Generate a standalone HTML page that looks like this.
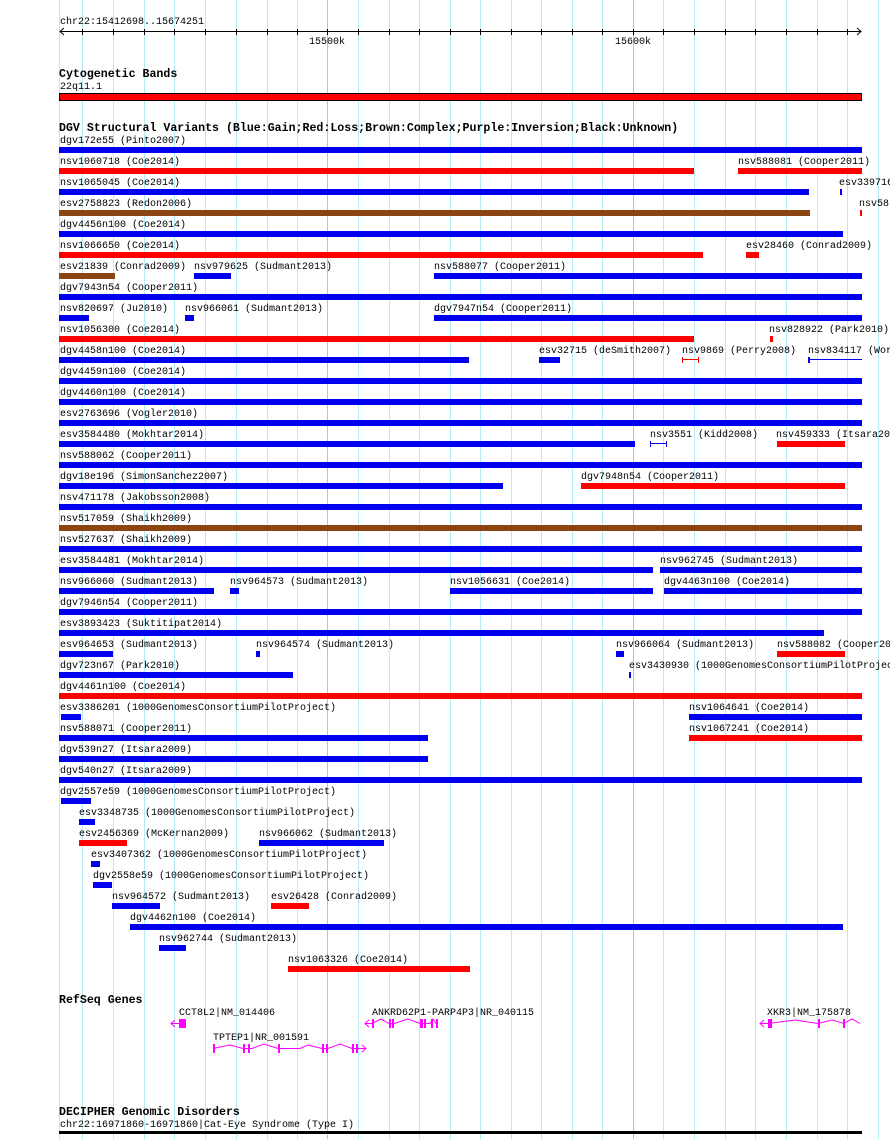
<!DOCTYPE html>
<html><head><meta charset="utf-8"><style>
body{margin:0;width:890px;height:1139px;background:#fff;position:relative;overflow:hidden;font-family:"Liberation Mono","DejaVu Sans Mono",monospace;}
.g{position:absolute;top:0;height:1139px;width:1px;background:#b4ecf2;}
.gm{background:#9ccde6;}
.t{position:absolute;font-size:10px;line-height:11px;white-space:pre;color:#000;margin-top:1px;}
.h{position:absolute;font-size:11.6px;line-height:12px;font-weight:bold;white-space:pre;color:#000;margin-top:1px;}
.b{position:absolute;height:6px;}
.B{background:#0000ee;}.R{background:#ff0000;}.N{background:#8b4513;}
</style></head><body>
<div class="g" style="left:59px"></div>
<div class="g" style="left:82px"></div><div class="g" style="left:113px"></div><div class="g" style="left:144px"></div><div class="g" style="left:174px"></div><div class="g" style="left:205px"></div><div class="g" style="left:236px"></div><div class="g" style="left:267px"></div><div class="g" style="left:297px"></div><div class="g gm" style="left:327px"></div><div class="g" style="left:358px"></div><div class="g" style="left:389px"></div><div class="g" style="left:419px"></div><div class="g" style="left:450px"></div><div class="g" style="left:480px"></div><div class="g" style="left:511px"></div><div class="g" style="left:541px"></div><div class="g" style="left:572px"></div><div class="g" style="left:602px"></div><div class="g gm" style="left:633px"></div><div class="g" style="left:663px"></div><div class="g" style="left:694px"></div><div class="g" style="left:725px"></div><div class="g" style="left:755px"></div><div class="g" style="left:786px"></div><div class="g" style="left:817px"></div><div class="g" style="left:847px"></div><div class="g" style="left:878px"></div>

<svg style="position:absolute;left:0;top:0" width="890" height="60">
<line x1="60" y1="31.5" x2="861" y2="31.5" stroke="#000"/>
<polyline points="64,28 60,31.5 64,35" fill="none" stroke="#000"/>
<polyline points="857,28 861,31.5 857,35" fill="none" stroke="#000"/>
<g stroke="#000">
<line x1="82.5" y1="29" x2="82.5" y2="35"/><line x1="113.5" y1="29" x2="113.5" y2="35"/><line x1="144.5" y1="29" x2="144.5" y2="35"/><line x1="174.5" y1="29" x2="174.5" y2="35"/><line x1="205.5" y1="29" x2="205.5" y2="35"/><line x1="236.5" y1="29" x2="236.5" y2="35"/><line x1="267.5" y1="29" x2="267.5" y2="35"/><line x1="297.5" y1="29" x2="297.5" y2="35"/><line x1="327.5" y1="29" x2="327.5" y2="35"/><line x1="358.5" y1="29" x2="358.5" y2="35"/><line x1="389.5" y1="29" x2="389.5" y2="35"/><line x1="419.5" y1="29" x2="419.5" y2="35"/><line x1="450.5" y1="29" x2="450.5" y2="35"/><line x1="480.5" y1="29" x2="480.5" y2="35"/><line x1="511.5" y1="29" x2="511.5" y2="35"/><line x1="541.5" y1="29" x2="541.5" y2="35"/><line x1="572.5" y1="29" x2="572.5" y2="35"/><line x1="602.5" y1="29" x2="602.5" y2="35"/><line x1="633.5" y1="29" x2="633.5" y2="35"/><line x1="663.5" y1="29" x2="663.5" y2="35"/><line x1="694.5" y1="29" x2="694.5" y2="35"/><line x1="725.5" y1="29" x2="725.5" y2="35"/><line x1="755.5" y1="29" x2="755.5" y2="35"/><line x1="786.5" y1="29" x2="786.5" y2="35"/><line x1="817.5" y1="29" x2="817.5" y2="35"/><line x1="847.5" y1="29" x2="847.5" y2="35"/>
</g></svg>
<div class="t" style="left:60px;top:16px">chr22:15412698..15674251</div>
<div class="t" style="left:309px;top:36px">15500k</div>
<div class="t" style="left:615px;top:36px">15600k</div>

<div class="h" style="left:59px;top:68px">Cytogenetic Bands</div>
<div class="t" style="left:60px;top:81px">22q11.1</div>
<div style="position:absolute;left:59px;top:93px;width:801px;height:6px;background:#f00;border:1px solid #000"></div>

<div class="h" style="left:59px;top:122px">DGV Structural Variants (Blue:Gain;Red:Loss;Brown:Complex;Purple:Inversion;Black:Unknown)</div>

<div class="t" style="left:60px;top:135px">dgv172e55 (Pinto2007)</div><div class="b B" style="left:59px;top:147px;width:803px"></div>
<div class="t" style="left:60px;top:156px">nsv1060718 (Coe2014)</div><div class="b R" style="left:59px;top:168px;width:635px"></div>
<div class="t" style="left:738px;top:156px">nsv588081 (Cooper2011)</div><div class="b R" style="left:738px;top:168px;width:124px"></div>
<div class="t" style="left:60px;top:177px">nsv1065045 (Coe2014)</div><div class="b B" style="left:59px;top:189px;width:750px"></div>
<div class="t" style="left:839px;top:177px">esv339716</div><div class="b B" style="left:840px;top:189px;width:2px"></div>
<div class="t" style="left:60px;top:198px">esv2758823 (Redon2006)</div><div class="b N" style="left:59px;top:210px;width:751px"></div>
<div class="t" style="left:859px;top:198px">nsv58</div><div class="b R" style="left:860px;top:210px;width:2px"></div>
<div class="t" style="left:60px;top:219px">dgv4456n100 (Coe2014)</div><div class="b B" style="left:59px;top:231px;width:784px"></div>
<div class="t" style="left:60px;top:240px">nsv1066650 (Coe2014)</div><div class="b R" style="left:59px;top:252px;width:644px"></div>
<div class="t" style="left:746px;top:240px">esv28460 (Conrad2009)</div><div class="b R" style="left:746px;top:252px;width:13px"></div>
<div class="t" style="left:60px;top:261px">esv21839 (Conrad2009)</div><div class="b N" style="left:59px;top:273px;width:56px"></div>
<div class="t" style="left:194px;top:261px">nsv979625 (Sudmant2013)</div><div class="b B" style="left:194px;top:273px;width:37px"></div>
<div class="t" style="left:434px;top:261px">nsv588077 (Cooper2011)</div><div class="b B" style="left:434px;top:273px;width:428px"></div>
<div class="t" style="left:60px;top:282px">dgv7943n54 (Cooper2011)</div><div class="b B" style="left:59px;top:294px;width:803px"></div>
<div class="t" style="left:60px;top:303px">nsv820697 (Ju2010)</div><div class="b B" style="left:59px;top:315px;width:30px"></div>
<div class="t" style="left:185px;top:303px">nsv966061 (Sudmant2013)</div><div class="b B" style="left:185px;top:315px;width:9px"></div>
<div class="t" style="left:434px;top:303px">dgv7947n54 (Cooper2011)</div><div class="b B" style="left:434px;top:315px;width:428px"></div>
<div class="t" style="left:60px;top:324px">nsv1056300 (Coe2014)</div><div class="b R" style="left:59px;top:336px;width:635px"></div>
<div class="t" style="left:769px;top:324px">nsv828922 (Park2010)</div><div class="b R" style="left:770px;top:336px;width:3px"></div>
<div class="t" style="left:60px;top:345px">dgv4458n100 (Coe2014)</div><div class="b B" style="left:59px;top:357px;width:410px"></div>
<div class="t" style="left:539px;top:345px">esv32715 (deSmith2007)</div><div class="b B" style="left:539px;top:357px;width:21px"></div>
<div class="t" style="left:682px;top:345px">nsv9869 (Perry2008)</div>
<div style="position:absolute;left:682px;top:359px;width:17px;height:1px;background:#f00"></div><div style="position:absolute;left:682px;top:357px;width:1px;height:6px;background:#f00"></div><div style="position:absolute;left:698px;top:357px;width:1px;height:6px;background:#f00"></div>
<div class="t" style="left:808px;top:345px">nsv834117 (Wor</div>
<div style="position:absolute;left:808px;top:359px;width:54px;height:1px;background:#00e"></div><div style="position:absolute;left:808px;top:357px;width:2px;height:6px;background:#00e"></div>
<div class="t" style="left:60px;top:366px">dgv4459n100 (Coe2014)</div><div class="b B" style="left:59px;top:378px;width:803px"></div>
<div class="t" style="left:60px;top:387px">dgv4460n100 (Coe2014)</div><div class="b B" style="left:59px;top:399px;width:803px"></div>
<div class="t" style="left:60px;top:408px">esv2763696 (Vogler2010)</div><div class="b B" style="left:59px;top:420px;width:803px"></div>
<div class="t" style="left:60px;top:429px">esv3584480 (Mokhtar2014)</div><div class="b B" style="left:59px;top:441px;width:576px"></div>
<div class="t" style="left:650px;top:429px">nsv3551 (Kidd2008)</div>
<div style="position:absolute;left:650px;top:443px;width:17px;height:1px;background:#00e"></div><div style="position:absolute;left:650px;top:441px;width:1px;height:6px;background:#00e"></div><div style="position:absolute;left:666px;top:441px;width:1px;height:6px;background:#00e"></div>
<div class="t" style="left:776px;top:429px">nsv459333 (Itsara20</div><div class="b R" style="left:777px;top:441px;width:68px"></div>
<div class="t" style="left:60px;top:450px">nsv588062 (Cooper2011)</div><div class="b B" style="left:59px;top:462px;width:803px"></div>
<div class="t" style="left:60px;top:471px">dgv18e196 (SimonSanchez2007)</div><div class="b B" style="left:59px;top:483px;width:444px"></div>
<div class="t" style="left:581px;top:471px">dgv7948n54 (Cooper2011)</div><div class="b R" style="left:581px;top:483px;width:264px"></div>
<div class="t" style="left:60px;top:492px">nsv471178 (Jakobsson2008)</div><div class="b B" style="left:59px;top:504px;width:803px"></div>
<div class="t" style="left:60px;top:513px">nsv517059 (Shaikh2009)</div><div class="b N" style="left:59px;top:525px;width:803px"></div>
<div class="t" style="left:60px;top:534px">nsv527637 (Shaikh2009)</div><div class="b B" style="left:59px;top:546px;width:803px"></div>
<div class="t" style="left:60px;top:555px">esv3584481 (Mokhtar2014)</div><div class="b B" style="left:59px;top:567px;width:594px"></div>
<div class="t" style="left:660px;top:555px">nsv962745 (Sudmant2013)</div><div class="b B" style="left:660px;top:567px;width:202px"></div>
<div class="t" style="left:60px;top:576px">nsv966060 (Sudmant2013)</div><div class="b B" style="left:59px;top:588px;width:155px"></div>
<div class="t" style="left:230px;top:576px">nsv964573 (Sudmant2013)</div><div class="b B" style="left:230px;top:588px;width:9px"></div>
<div class="t" style="left:450px;top:576px">nsv1056631 (Coe2014)</div><div class="b B" style="left:450px;top:588px;width:203px"></div>
<div class="t" style="left:664px;top:576px">dgv4463n100 (Coe2014)</div><div class="b B" style="left:664px;top:588px;width:198px"></div>
<div class="t" style="left:60px;top:597px">dgv7946n54 (Cooper2011)</div><div class="b B" style="left:59px;top:609px;width:803px"></div>
<div class="t" style="left:60px;top:618px">esv3893423 (Suktitipat2014)</div><div class="b B" style="left:59px;top:630px;width:765px"></div>
<div class="t" style="left:60px;top:639px">esv964653 (Sudmant2013)</div><div class="b B" style="left:59px;top:651px;width:54px"></div>
<div class="t" style="left:256px;top:639px">nsv964574 (Sudmant2013)</div><div class="b B" style="left:256px;top:651px;width:4px"></div>
<div class="t" style="left:616px;top:639px">nsv966064 (Sudmant2013)</div><div class="b B" style="left:616px;top:651px;width:8px"></div>
<div class="t" style="left:777px;top:639px">nsv588082 (Cooper2011)</div><div class="b R" style="left:777px;top:651px;width:68px"></div>
<div class="t" style="left:60px;top:660px">dgv723n67 (Park2010)</div><div class="b B" style="left:59px;top:672px;width:234px"></div>
<div class="t" style="left:629px;top:660px">esv3430930 (1000GenomesConsortiumPilotProject)</div><div class="b B" style="left:629px;top:672px;width:2px"></div>
<div class="t" style="left:60px;top:681px">dgv4461n100 (Coe2014)</div><div class="b R" style="left:59px;top:693px;width:803px"></div>
<div class="t" style="left:60px;top:702px">esv3386201 (1000GenomesConsortiumPilotProject)</div><div class="b B" style="left:61px;top:714px;width:20px"></div>
<div class="t" style="left:689px;top:702px">nsv1064641 (Coe2014)</div><div class="b B" style="left:689px;top:714px;width:173px"></div>
<div class="t" style="left:60px;top:723px">nsv588071 (Cooper2011)</div><div class="b B" style="left:59px;top:735px;width:369px"></div>
<div class="t" style="left:689px;top:723px">nsv1067241 (Coe2014)</div><div class="b R" style="left:689px;top:735px;width:173px"></div>
<div class="t" style="left:60px;top:744px">dgv539n27 (Itsara2009)</div><div class="b B" style="left:59px;top:756px;width:369px"></div>
<div class="t" style="left:60px;top:765px">dgv540n27 (Itsara2009)</div><div class="b B" style="left:59px;top:777px;width:803px"></div>
<div class="t" style="left:60px;top:786px">dgv2557e59 (1000GenomesConsortiumPilotProject)</div><div class="b B" style="left:61px;top:798px;width:30px"></div>
<div class="t" style="left:79px;top:807px">esv3348735 (1000GenomesConsortiumPilotProject)</div><div class="b B" style="left:79px;top:819px;width:16px"></div>
<div class="t" style="left:79px;top:828px">esv2456369 (McKernan2009)</div><div class="b R" style="left:79px;top:840px;width:48px"></div>
<div class="t" style="left:259px;top:828px">nsv966062 (Sudmant2013)</div><div class="b B" style="left:259px;top:840px;width:125px"></div>
<div class="t" style="left:91px;top:849px">esv3407362 (1000GenomesConsortiumPilotProject)</div><div class="b B" style="left:91px;top:861px;width:9px"></div>
<div class="t" style="left:93px;top:870px">dgv2558e59 (1000GenomesConsortiumPilotProject)</div><div class="b B" style="left:93px;top:882px;width:19px"></div>
<div class="t" style="left:112px;top:891px">nsv964572 (Sudmant2013)</div><div class="b B" style="left:112px;top:903px;width:48px"></div>
<div class="t" style="left:271px;top:891px">esv26428 (Conrad2009)</div><div class="b R" style="left:271px;top:903px;width:38px"></div>
<div class="t" style="left:130px;top:912px">dgv4462n100 (Coe2014)</div><div class="b B" style="left:130px;top:924px;width:713px"></div>
<div class="t" style="left:159px;top:933px">nsv962744 (Sudmant2013)</div><div class="b B" style="left:159px;top:945px;width:27px"></div>
<div class="t" style="left:288px;top:954px">nsv1063326 (Coe2014)</div><div class="b R" style="left:288px;top:966px;width:182px"></div>

<div class="h" style="left:59px;top:994px">RefSeq Genes</div>
<div class="t" style="left:179px;top:1007px">CCT8L2|NM_014406</div>
<div class="t" style="left:372px;top:1007px">ANKRD62P1-PARP4P3|NR_040115</div>
<div class="t" style="left:767px;top:1007px">XKR3|NM_175878</div>
<div class="t" style="left:213px;top:1032px">TPTEP1|NR_001591</div>
<svg style="position:absolute;left:0;top:1000px" width="890" height="60" fill="#f0f" stroke="#f0f">
<g stroke-width="1" fill="none">
<line x1="171" y1="23.5" x2="180" y2="23.5"/><polyline points="175,20 171,23.5 175,27"/>
<polyline points="365,23.5 372,23.5 381,19 389,23.5 394,23.5 408,19 420,23.5 430,23.5 433,19 436,23.5"/><polyline points="369,20 365,23.5 369,27"/>
<polyline points="213,48.5 230,45 243,48.5 252,48.5 264,44 278,48.5 300,48.5 308,45 322,48.5 328,48.5 340,44 352,48.5 366,48.5"/><polyline points="362,45 366,48.5 362,52"/>
<polyline points="760,23.5 768,23.5 795,20 818,23.5 832,20 844,23.5 852,19 860,23.5"/><polyline points="764,20 760,23.5 764,27"/>
</g>
<g stroke="none">
<rect x="179" y="19" width="7" height="9"/>
<rect x="372" y="19" width="2" height="9"/><rect x="389" y="19" width="2" height="9"/><rect x="392" y="19" width="2" height="9"/><rect x="420" y="19" width="3" height="9"/><rect x="424" y="19" width="2" height="9"/><rect x="431" y="19" width="2" height="9"/><rect x="436" y="19" width="2" height="9"/>
<rect x="213" y="44" width="2" height="9"/><rect x="243" y="44" width="2" height="9"/><rect x="248" y="44" width="2" height="9"/><rect x="278" y="44" width="2" height="9"/><rect x="322" y="44" width="2" height="9"/><rect x="326" y="44" width="2" height="9"/><rect x="352" y="44" width="2" height="9"/><rect x="356" y="44" width="2" height="9"/>
<rect x="768" y="19" width="4" height="9"/><rect x="818" y="19" width="2" height="9"/><rect x="843" y="19" width="2" height="9"/>
</g></svg>

<div class="h" style="left:59px;top:1106px">DECIPHER Genomic Disorders</div>
<div class="t" style="left:60px;top:1119px">chr22:16971860-16971860|Cat-Eye Syndrome (Type I)</div>
<div style="position:absolute;left:59px;top:1131px;width:803px;height:3px;background:#000"></div>
</body></html>
